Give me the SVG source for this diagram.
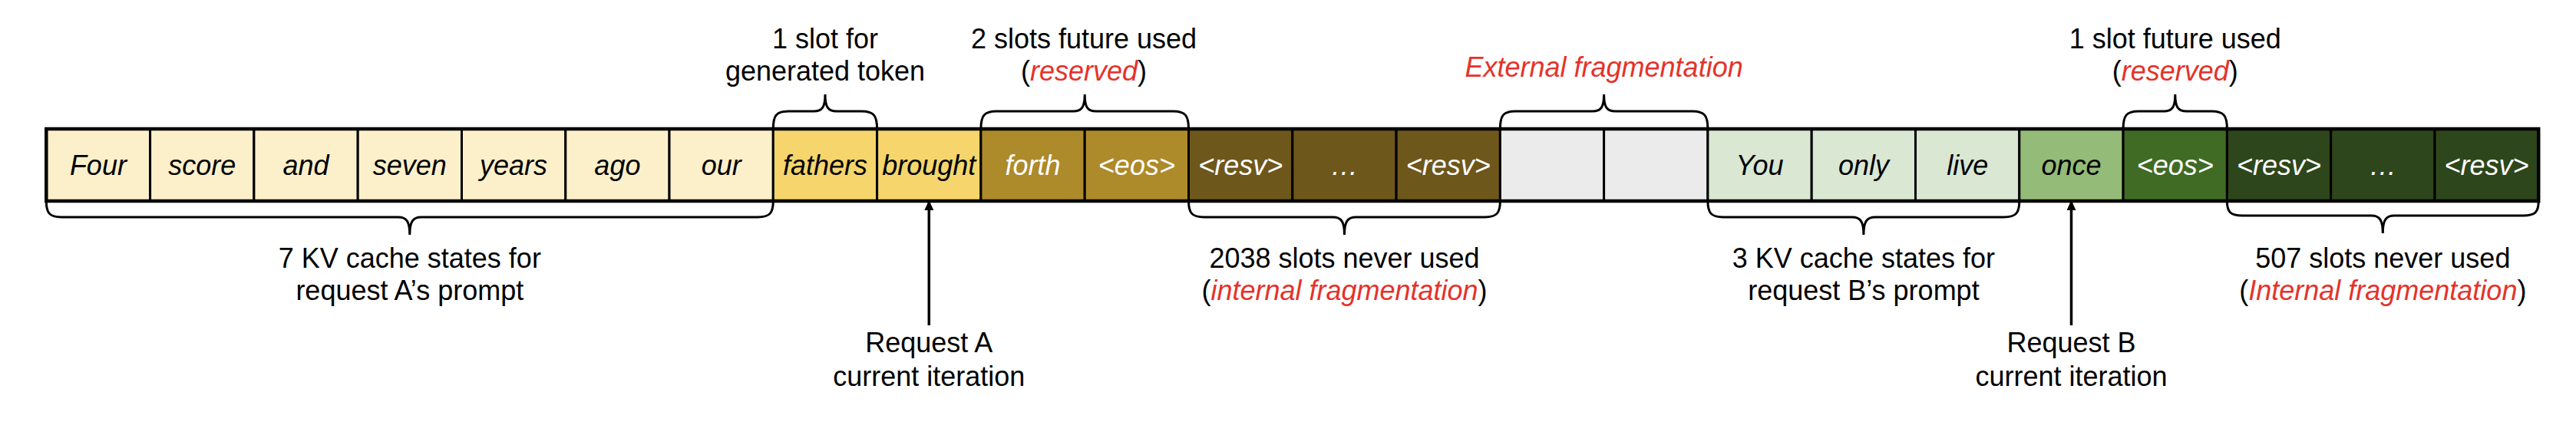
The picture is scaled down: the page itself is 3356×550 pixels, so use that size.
<svg xmlns="http://www.w3.org/2000/svg" width="3356" height="550" viewBox="0 0 3356 550">
<defs>
<style>
.cell{stroke:#000;stroke-width:3}
.w{font-family:"Liberation Sans",Arial,sans-serif;font-style:italic;font-size:36px;text-anchor:middle}
.dk{fill:#000}
.lt{fill:#fff}
.lbl{font-family:"Liberation Sans",Arial,sans-serif;font-size:36px;text-anchor:middle;fill:#000}
.red{fill:#E5322A;font-style:italic}
.brace{fill:none;stroke:#000;stroke-width:3}
.arrow{stroke:#000;stroke-width:3.5;fill:none}
.c1{fill:#FCF0CA}.c2{fill:#F5D56C}.c3{fill:#AD8A2A}.c4{fill:#6E571B}
.c5{fill:#EBEBEB}.c6{fill:#D9E7D3}.c7{fill:#94BB78}.c8{fill:#3F6B25}.c9{fill:#2D461B}
</style>
<marker id="ah" viewBox="0 0 10 12" refX="10" refY="6" markerWidth="10" markerHeight="12" markerUnits="userSpaceOnUse" orient="auto">
<path d="M0,0 L10,6 L0,12 Z" fill="#000" transform="scale(1.3,1)"/>
</marker>
</defs>
<rect width="3356" height="550" fill="#fff"/>

<g id="cells">
<g id="n0"><rect class="cell c1" x="60.3" y="168" width="135.3" height="94"/><text class="w dk" x="127.9" y="228">Four</text></g>
<g id="n1"><rect class="cell c1" x="195.6" y="168" width="135.3" height="94"/><text class="w dk" x="263.2" y="228">score</text></g>
<g id="n2"><rect class="cell c1" x="330.9" y="168" width="135.3" height="94"/><text class="w dk" x="398.5" y="228">and</text></g>
<g id="n3"><rect class="cell c1" x="466.2" y="168" width="135.3" height="94"/><text class="w dk" x="533.8" y="228">seven</text></g>
<g id="n4"><rect class="cell c1" x="601.5" y="168" width="135.3" height="94"/><text class="w dk" x="669.1" y="228">years</text></g>
<g id="n5"><rect class="cell c1" x="736.8" y="168" width="135.3" height="94"/><text class="w dk" x="804.4" y="228">ago</text></g>
<g id="n6"><rect class="cell c1" x="872.0" y="168" width="135.3" height="94"/><text class="w dk" x="939.7" y="228">our</text></g>
<g id="n7"><rect class="cell c2" x="1007.3" y="168" width="135.3" height="94"/><text class="w dk" x="1075.0" y="228">fathers</text></g>
<g id="n8"><rect class="cell c2" x="1142.6" y="168" width="135.3" height="94"/><text class="w dk" x="1210.3" y="228">brought</text></g>
<g id="n9"><rect class="cell c3" x="1277.9" y="168" width="135.3" height="94"/><text class="w lt" x="1345.6" y="228">forth</text></g>
<g id="n10"><rect class="cell c3" x="1413.2" y="168" width="135.3" height="94"/><text class="w lt" x="1480.9" y="228">&lt;eos&gt;</text></g>
<g id="n11"><rect class="cell c4" x="1548.5" y="168" width="135.3" height="94"/><text class="w lt" x="1616.2" y="228">&lt;resv&gt;</text></g>
<g id="n12"><rect class="cell c4" x="1683.8" y="168" width="135.3" height="94"/><text class="w lt" x="1751.5" y="228">…</text></g>
<g id="n13"><rect class="cell c4" x="1819.1" y="168" width="135.3" height="94"/><text class="w lt" x="1886.8" y="228">&lt;resv&gt;</text></g>
<g id="n14"><rect class="cell c5" x="1954.4" y="168" width="135.3" height="94"/></g>
<g id="n15"><rect class="cell c5" x="2089.6" y="168" width="135.3" height="94"/></g>
<g id="n16"><rect class="cell c6" x="2224.9" y="168" width="135.3" height="94"/><text class="w dk" x="2292.6" y="228">You</text></g>
<g id="n17"><rect class="cell c6" x="2360.2" y="168" width="135.3" height="94"/><text class="w dk" x="2427.9" y="228">only</text></g>
<g id="n18"><rect class="cell c6" x="2495.5" y="168" width="135.3" height="94"/><text class="w dk" x="2563.2" y="228">live</text></g>
<g id="n19"><rect class="cell c7" x="2630.8" y="168" width="135.3" height="94"/><text class="w dk" x="2698.5" y="228">once</text></g>
<g id="n20"><rect class="cell c8" x="2766.1" y="168" width="135.3" height="94"/><text class="w lt" x="2833.8" y="228">&lt;eos&gt;</text></g>
<g id="n21"><rect class="cell c9" x="2901.4" y="168" width="135.3" height="94"/><text class="w lt" x="2969.1" y="228">&lt;resv&gt;</text></g>
<g id="n22"><rect class="cell c9" x="3036.7" y="168" width="135.3" height="94"/><text class="w lt" x="3104.4" y="228">…</text></g>
<g id="n23"><rect class="cell c9" x="3172.0" y="168" width="135.3" height="94"/><text class="w lt" x="3239.6" y="228">&lt;resv&gt;</text></g>
<rect x="60.3" y="168" width="3246.9" height="94" fill="none" stroke="#000" stroke-width="4.5"/>
</g>

<g id="connectors">
<!-- top braces -->
<path class="brace" d="M1007.3,168 C1007.3,151 1011,145 1027,145 L1060,145 C1071,145 1075,140 1075,123 C1075,140 1079,145 1090,145 L1122.6,145 C1138.6,145 1142.6,151 1142.6,168"/>
<path class="brace" d="M1277.9,168 C1277.9,151 1282,145 1298,145 L1398,145 C1409,145 1413.2,140 1413.2,123 C1413.2,140 1417,145 1428,145 L1528.5,145 C1544.5,145 1548.5,151 1548.5,168"/>
<path class="brace" d="M1954.4,168 C1954.4,151 1958,145 1974,145 L2074.6,145 C2085.6,145 2089.6,140 2089.6,123 C2089.6,140 2093.6,145 2104.6,145 L2204.9,145 C2220.9,145 2224.9,151 2224.9,168"/>
<path class="brace" d="M2766.1,168 C2766.1,151 2770,145 2786,145 L2818.8,145 C2829.8,145 2833.8,140 2833.8,123 C2833.8,140 2837.8,145 2848.8,145 L2881.4,145 C2897.4,145 2901.4,151 2901.4,168"/>
<!-- bottom braces -->
<path class="brace" d="M60.3,262 C60.3,277 64,283 80,283 L518.8,283 C529.8,283 533.8,289 533.8,306 C533.8,289 537.8,283 548.8,283 L987.3,283 C1003.3,283 1007.3,277 1007.3,262"/>
<path class="brace" d="M1548.5,262 C1548.5,277 1552.5,283 1568.5,283 L1736.5,283 C1747.5,283 1751.5,289 1751.5,306 C1751.5,289 1755.5,283 1766.5,283 L1934.4,283 C1950.4,283 1954.4,277 1954.4,262"/>
<path class="brace" d="M2224.9,262 C2224.9,277 2228.9,283 2244.9,283 L2412.9,283 C2423.9,283 2427.9,289 2427.9,306 C2427.9,289 2431.9,283 2442.9,283 L2610.8,283 C2626.8,283 2630.8,277 2630.8,262"/>
<path class="brace" d="M2901.4,262 C2901.4,276 2905.4,281 2921.4,281 L3089.3,281 C3100.3,281 3104.3,287 3104.3,304 C3104.3,287 3108.3,281 3119.3,281 L3287.2,281 C3303.2,281 3307.2,276 3307.2,262"/>
<!-- arrows -->
<line class="arrow" x1="1210.3" y1="424" x2="1210.3" y2="264" marker-end="url(#ah)"/>
<line class="arrow" x1="2698.5" y1="424" x2="2698.5" y2="264" marker-end="url(#ah)"/>
</g>

<g id="labels">
<g id="l-slot1"><text class="lbl" x="1075" y="63">1 slot for</text><text class="lbl" x="1075" y="105">generated token</text></g>
<g id="l-slots2"><text class="lbl" x="1412" y="63">2 slots future used</text><text class="lbl" x="1412" y="105">(<tspan class="red">reserved</tspan>)</text></g>
<g id="l-ext"><text class="lbl red" x="2089.6" y="100">External fragmentation</text></g>
<g id="l-slot1b"><text class="lbl" x="2833.8" y="63">1 slot future used</text><text class="lbl" x="2833.8" y="105">(<tspan class="red">reserved</tspan>)</text></g>
<g id="l-kvA"><text class="lbl" x="533.8" y="349">7 KV cache states for</text><text class="lbl" x="533.8" y="391">request A’s prompt</text></g>
<g id="l-2038"><text class="lbl" x="1751.5" y="349">2038 slots never used</text><text class="lbl" x="1751.5" y="391">(<tspan class="red">internal fragmentation</tspan>)</text></g>
<g id="l-kvB"><text class="lbl" x="2427.9" y="349">3 KV cache states for</text><text class="lbl" x="2427.9" y="391">request B’s prompt</text></g>
<g id="l-507"><text class="lbl" x="3104.3" y="349">507 slots never used</text><text class="lbl" x="3104.3" y="391">(<tspan class="red">Internal fragmentation</tspan>)</text></g>
<g id="l-reqA"><text class="lbl" x="1210.3" y="459">Request A</text><text class="lbl" x="1210.3" y="503">current iteration</text></g>
<g id="l-reqB"><text class="lbl" x="2698.5" y="459">Request B</text><text class="lbl" x="2698.5" y="503">current iteration</text></g>
</g>
</svg>
